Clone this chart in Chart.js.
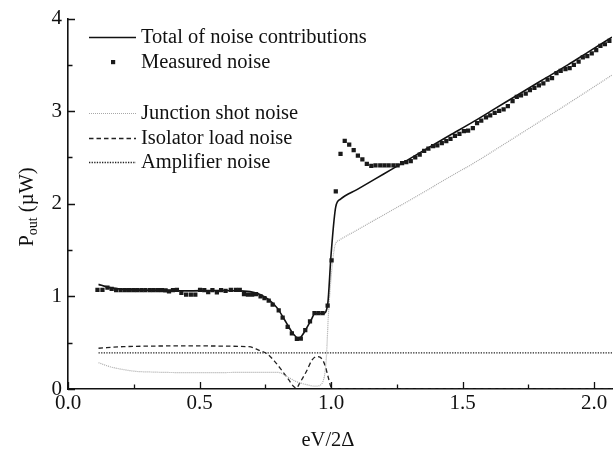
<!DOCTYPE html>
<html>
<head>
<meta charset="utf-8">
<script src="https://cdn.jsdelivr.net/npm/chart.js@4.4.0/dist/chart.umd.min.js"></script>
<style>
  html, body { margin: 0; padding: 0; background: #fff; }
  #wrap { width: 616px; height: 451px; }
</style>
</head>
<body>
<div id="wrap"><canvas id="noiseChart"></canvas></div>
<script>
// bias eV/2Δ and output power (µW)
const measV = [0.112, 0.131, 0.150, 0.166, 0.183, 0.200, 0.216, 0.232, 0.248, 0.263, 0.279, 0.294, 0.311, 0.326, 0.342, 0.357, 0.371, 0.384, 0.399, 0.414,
  0.431, 0.449, 0.467, 0.484, 0.502, 0.518, 0.533, 0.549, 0.566, 0.582, 0.599, 0.619, 0.638, 0.653, 0.669, 0.684, 0.700, 0.715, 0.732, 0.747,
  0.763, 0.778, 0.801, 0.816, 0.835, 0.851, 0.870, 0.885, 0.902, 0.920, 0.937, 0.952, 0.968, 0.987, 1.002, 1.018, 1.036, 1.052, 1.069, 1.086,
  1.102, 1.119, 1.136, 1.153, 1.169, 1.187, 1.203, 1.219, 1.237, 1.253, 1.270, 1.286, 1.303, 1.320, 1.337, 1.354, 1.370, 1.388, 1.404, 1.421,
  1.438, 1.454, 1.471, 1.488, 1.505, 1.521, 1.539, 1.555, 1.571, 1.589, 1.605, 1.622, 1.639, 1.656, 1.672, 1.690, 1.706, 1.722, 1.740, 1.756,
  1.773, 1.790, 1.807, 1.823, 1.840, 1.857, 1.873, 1.891, 1.907, 1.923, 1.941, 1.957, 1.974, 1.991, 2.008, 2.024, 2.041, 2.058];
const measP = [1.071, 1.071, 1.096, 1.082, 1.067, 1.067, 1.067, 1.067, 1.067, 1.067, 1.067, 1.067, 1.067, 1.067, 1.067, 1.067, 1.064, 1.053, 1.067, 1.071,
  1.039, 1.018, 1.018, 1.018, 1.071, 1.067, 1.046, 1.067, 1.043, 1.068, 1.060, 1.071, 1.071, 1.071, 1.025, 1.018, 1.018, 1.025, 1.000, 0.982,
  0.955, 0.910, 0.850, 0.770, 0.670, 0.600, 0.540, 0.545, 0.635, 0.730, 0.820, 0.820, 0.820, 0.900, 1.390, 2.135, 2.540, 2.680, 2.640, 2.580,
  2.520, 2.480, 2.430, 2.410, 2.415, 2.415, 2.415, 2.415, 2.415, 2.415, 2.440, 2.450, 2.460, 2.500, 2.530, 2.571, 2.596, 2.624, 2.631, 2.656,
  2.677, 2.702, 2.734, 2.755, 2.784, 2.791, 2.816, 2.872, 2.897, 2.933, 2.954, 2.982, 3.003, 3.021, 3.056, 3.110, 3.156, 3.170, 3.191, 3.227,
  3.252, 3.280, 3.301, 3.340, 3.358, 3.411, 3.436, 3.454, 3.464, 3.500, 3.535, 3.582, 3.596, 3.624, 3.660, 3.706, 3.723, 3.759];

const totalV = [0.116, 0.150, 0.198, 0.250, 0.350, 0.450, 0.575, 0.650, 0.700, 0.730, 0.763, 0.795, 0.826, 0.851, 0.870, 0.880, 0.889, 0.908, 0.925, 0.939,
  0.971, 0.987, 1.000, 1.018, 1.036, 1.100, 1.200, 1.300, 1.367, 1.450, 1.543, 1.620, 1.706, 1.800, 1.900, 1.980, 2.068];
const totalP = [1.130, 1.100, 1.080, 1.070, 1.065, 1.060, 1.064, 1.060, 1.046, 1.020, 0.965, 0.876, 0.734, 0.617, 0.556, 0.550, 0.574, 0.663, 0.750, 0.816,
  0.816, 0.910, 1.450, 1.970, 2.050, 2.156, 2.322, 2.488, 2.600, 2.737, 2.890, 3.022, 3.170, 3.331, 3.500, 3.643, 3.800];

const junctionV = [0.116, 0.160, 0.210, 0.260, 0.311, 0.400, 0.550, 0.700, 0.788, 0.807, 0.826, 0.845, 0.864, 0.889, 0.910, 0.939, 0.958, 0.971, 0.977, 0.983,
  0.989, 1.000, 1.015, 1.033, 1.100, 1.200, 1.300, 1.367, 1.450, 1.543, 1.650, 1.800, 1.900, 2.068];
const junctionP = [0.284, 0.240, 0.210, 0.190, 0.184, 0.178, 0.177, 0.180, 0.180, 0.175, 0.145, 0.115, 0.085, 0.060, 0.045, 0.030, 0.040, 0.096, 0.180, 0.380,
  0.750, 1.200, 1.550, 1.610, 1.718, 1.880, 2.040, 2.150, 2.290, 2.440, 2.630, 2.900, 3.080, 3.390];

const isolatorV = [0.116, 0.210, 0.460, 0.688, 0.725, 0.757, 0.788, 0.813, 0.839, 0.857, 0.868, 0.882, 0.908, 0.927, 0.945, 0.964, 0.977, 0.989, 1.000, 1.010, 2.068];
const isolatorP = [0.440, 0.457, 0.465, 0.457, 0.420, 0.380, 0.290, 0.200, 0.100, 0.030, 0.010, 0.070, 0.200, 0.310, 0.350, 0.330, 0.255, 0.130, 0.020, 0.000, 0.000];

const ampV = [0.116, 2.068];
const ampP = [0.390, 0.390];

const xTickLabels = [0, 0.5, 1.0, 1.5, 2.0];
const xTickMarks = [0, 0.25, 0.5, 0.75, 1.0, 1.25, 1.5, 1.75, 2.0];
const yTickMarks = [0, 0.5, 1, 1.5, 2, 2.5, 3, 3.5, 4];

const legendLabels = ["Total of noise contributions", "Measured noise", "Junction shot noise", "Isolator load noise", "Amplifier noise"];

const SERIF = '"Liberation Serif", "DejaVu Serif", serif';
const pts = (xs, ys) => xs.map((v, i) => ({ x: v, y: ys[i] }));

// ticks of the original plot point into the frame
const inwardTicks = {
  id: "inwardTicks",
  afterDraw(chart) {
    const { ctx, chartArea, scales: { x, y } } = chart;
    ctx.save();
    ctx.strokeStyle = "#111";
    ctx.lineWidth = 1.3;
    ctx.beginPath();
    xTickMarks.forEach((v) => {
      const px = Math.round(x.getPixelForValue(v)) + 0.5;
      const len = Number.isInteger(v * 2) ? 7 : 4.5;
      ctx.moveTo(px, chartArea.bottom);
      ctx.lineTo(px, chartArea.bottom - len);
    });
    yTickMarks.forEach((v) => {
      const py = Math.round(y.getPixelForValue(v)) + 0.5;
      const len = Number.isInteger(v) ? 7 : 4.5;
      ctx.moveTo(chartArea.left, py);
      ctx.lineTo(chartArea.left + len, py);
    });
    ctx.stroke();
    ctx.restore();
  },
};

// axis titles (the y title needs a subscript)
const axisTitles = {
  id: "axisTitles",
  afterDraw(chart) {
    const { ctx } = chart;
    ctx.save();
    ctx.fillStyle = "#111";
    ctx.textBaseline = "alphabetic";
    ctx.font = "20.5px " + SERIF;
    ctx.textAlign = "center";
    ctx.fillText("eV/2\u0394", 328, 446);

    ctx.translate(33, 207);
    ctx.rotate(-Math.PI / 2);
    const big = "20.5px " + SERIF, small = "14px " + SERIF;
    ctx.font = big; const wP = ctx.measureText("P").width;
    ctx.font = small; const wSub = ctx.measureText("out").width;
    ctx.font = big; const wRest = ctx.measureText(" (\u00b5W)").width;
    let cx = -(wP + wSub + wRest) / 2;
    ctx.textAlign = "left";
    ctx.font = big; ctx.fillText("P", cx, 0); cx += wP;
    ctx.font = small; ctx.fillText("out", cx, 4); cx += wSub;
    ctx.font = big; ctx.fillText(" (\u00b5W)", cx, 0);
    ctx.restore();
  },
};

// legend sits inside the plot with an empty row after the measured noise
const insideLegend = {
  id: "insideLegend",
  afterDraw(chart) {
    const { ctx } = chart;
    const rows = [37, 62, 113, 138, 162];
    const order = [1, 0, 2, 3, 4];
    ctx.save();
    ctx.font = "20.5px " + SERIF;
    ctx.textBaseline = "middle";
    ctx.textAlign = "left";
    rows.forEach((ry, i) => {
      const ds = chart.data.datasets[order[i]];
      if (ds.showLine === false) {
        ctx.fillStyle = ds.backgroundColor;
        ctx.fillRect(111, ry - 2, 4.2, 4.2);
      } else {
        ctx.strokeStyle = ds.borderColor;
        ctx.lineWidth = ds.borderWidth;
        ctx.setLineDash(ds.borderDash || []);
        ctx.beginPath();
        ctx.moveTo(89, ry + 0.5);
        ctx.lineTo(136, ry + 0.5);
        ctx.stroke();
        ctx.setLineDash([]);
      }
      ctx.fillStyle = "#111";
      ctx.fillText(legendLabels[i], 141, ry + 1);
    });
    ctx.restore();
  },
};

new Chart(document.getElementById("noiseChart"), {
  type: "line",
  data: {
    datasets: [
      {
        label: legendLabels[1],
        data: pts(measV, measP),
        showLine: false,
        pointStyle: "rect",
        pointRadius: 3,
        pointBorderWidth: 0,
        backgroundColor: "#1a1a1a",
        borderColor: "#1a1a1a",
      },
      {
        label: legendLabels[0],
        data: pts(totalV, totalP),
        borderColor: "#111",
        borderWidth: 1.6,
        pointRadius: 0,
        cubicInterpolationMode: "monotone",
      },
      {
        label: legendLabels[2],
        data: pts(junctionV, junctionP),
        borderColor: "#a8a8a8",
        borderWidth: 1.2,
        borderDash: [1, 1],
        pointRadius: 0,
        cubicInterpolationMode: "monotone",
      },
      {
        label: legendLabels[3],
        data: pts(isolatorV, isolatorP),
        borderColor: "#222",
        borderWidth: 1.3,
        borderDash: [4.5, 3],
        pointRadius: 0,
        cubicInterpolationMode: "monotone",
      },
      {
        label: legendLabels[4],
        data: pts(ampV, ampP),
        borderColor: "#222",
        borderWidth: 1.3,
        borderDash: [1.3, 1.3],
        pointRadius: 0,
      },
    ],
  },
  options: {
    responsive: true,
    maintainAspectRatio: false,
    animation: false,
    layout: { padding: { top: 12.5, right: 0, bottom: 0, left: 0 } },
    plugins: {
      legend: { display: false },
      tooltip: { enabled: false },
    },
    scales: {
      x: {
        type: "linear",
        min: 0,
        max: 2.068,
        afterFit: (scale) => { scale.height = 62; },
        afterBuildTicks: (scale) => { scale.ticks = xTickLabels.map((v) => ({ value: v })); },
        grid: { display: false, drawTicks: false },
        border: { display: true, color: "#111", width: 1.6 },
        ticks: {
          padding: 2,
          color: "#111",
          font: { family: SERIF, size: 21 },
          maxRotation: 0,
          callback: (v) => Number(v).toFixed(1),
        },
      },
      y: {
        min: 0,
        max: 4,
        afterFit: (scale) => { scale.width = 68; },
        grid: { display: false, drawTicks: false },
        border: { display: true, color: "#111", width: 1.6 },
        ticks: {
          stepSize: 1,
          includeBounds: false,
          padding: 6,
          color: "#111",
          font: { family: SERIF, size: 21 },
          callback: (v) => String(v),
        },
      },
    },
  },
  plugins: [inwardTicks, axisTitles, insideLegend],
});
</script>
</body>
</html>
